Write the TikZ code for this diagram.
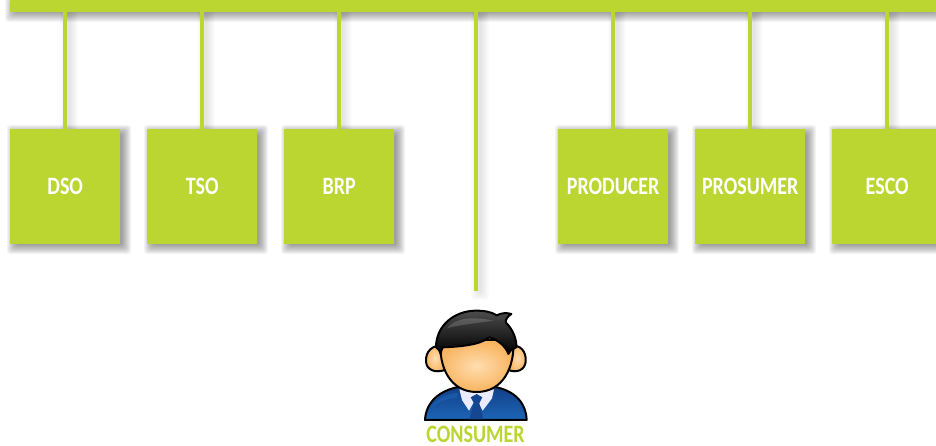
\documentclass[tikz,border=0pt]{standalone}
\usepackage{fontspec}
\setmainfont{Carlito}
\usetikzlibrary{positioning,calc}
\definecolor{lime}{HTML}{BBD531}
\definecolor{skinin}{HTML}{FFDDB0}
\definecolor{skinout}{HTML}{F8B45E}
\definecolor{suitdark}{HTML}{123F86}
\definecolor{suitlight}{HTML}{1C66B8}
\newcommand{\softshadow}[5]{%
  \foreach \s in {7,6,5,4,3,2,1,0,-1,-2}{%
    \fill[black,opacity=#5,rounded corners=3pt]
      ($(#1)+(#3-\s,#4-\s)$) rectangle ($(#2)+(#3+\s,#4+\s)$);}}
\newcommand{\lbl}[1]{\scalebox{1}[1.25]{\fontsize{20}{24}\bfseries\selectfont #1}}
\tikzset{
  x=1pt,y=-1pt,
  actor/.style={fill=lime,minimum width=110pt,minimum height=115pt,inner sep=0pt,text=white,anchor=north west},
  barbox/.style={fill=lime,minimum width=926pt,minimum height=12pt,inner sep=0pt,anchor=north west},
  wire/.style={draw=lime,line width=3.6pt},
  outline/.style={draw=black,line width=2pt,line join=round}
}
\begin{document}
\begin{tikzpicture}
\useasboundingbox (0,0) rectangle (936,446);
\clip (0,0) rectangle (936,446);
\fill[white] (0,0) rectangle (936,446);
% shadows
\softshadow{10,0}{936,12}{2}{3}{.04}
\foreach \a/\b in {10/120,147/257,284/394,558/668,695/805,832/942}{
  \softshadow{\a,129}{\b,244}{4}{3}{.042}}
\foreach \x in {65,202,339,476,613,750,887}{
  \pgfmathsetmacro{\yend}{\x==476 ? 291 : 129}
  \softshadow{\x-2,12}{\x+2,\yend}{4}{2}{.01}}
% nodes
\node[barbox] (bar) at (10,0) {};
\node[actor] (dso) at (10,129) {\lbl{DSO}};
\node[actor] (tso) at (147,129) {\lbl{TSO}};
\node[actor] (brp) at (284,129) {\lbl{BRP}};
\node[actor] (producer) at (558,129) {\lbl{PRODUCER}};
\node[actor] (prosumer) at (695,129) {\lbl{PROSUMER}};
\node[actor] (esco) at (832,129) {\lbl{ESCO}};
\coordinate (cend) at (476,291);
% connectors
\foreach \n in {dso,tso,brp,producer,prosumer,esco}{
  \draw[wire] (\n.north) -- (\n.north |- bar.south);}
\draw[wire] (cend) -- (cend |- bar.south);
% person
\begin{scope}[shift={(400,290)},x=.3333pt,y=-.3333pt]
  % body
  \path[outline,top color=suitdark,bottom color=suitlight] (75,390) .. controls (78,335) and (120,300) .. (180,290) -- (280,290) .. controls (340,300) and (378,335) .. (380,390) -- cycle;
  \fill[suitlight,opacity=.55] (95,350) .. controls (115,320) and (150,310) .. (175,308) -- (170,325) .. controls (140,325) and (115,335) .. cycle;
  % collar
  \fill[white!92!blue] (178,298) -- (282,298) -- (276,325) -- (248,362) -- (228,325) -- (207,362) -- (186,330) -- cycle;
  % tie
  \fill[suitdark!80!suitlight] (212,322) -- (230,312) -- (247,322) -- (238,340) -- (250,388) -- (208,388) -- (222,340) -- cycle;
  % ears
  \path[outline,inner color=skinin,outer color=skinout] (130,170) .. controls (100,160) and (75,185) .. (78,215) .. controls (80,240) and (105,250) .. (135,240) -- cycle;
  \path[outline,inner color=skinin,outer color=skinout] (330,170) .. controls (360,160) and (380,185) .. (377,215) .. controls (375,240) and (350,250) .. (325,240) -- cycle;
  % face
  \path[outline,inner color=skinin,outer color=skinout] (122,150) -- (340,150) .. controls (345,230) and (310,306) .. (230,306) .. controls (150,306) and (115,230) .. (122,150) -- cycle;
  % hair
  \path[draw=black,line width=2pt,line join=round,top color=black!70,bottom color=black] (108,172) .. controls (108,105) and (165,62) .. (228,62) .. controls (255,62) and (275,66) .. (290,76) .. controls (305,68) and (322,68) .. (334,72) .. controls (322,80) and (316,88) .. (318,98) .. controls (338,118) and (350,145) .. (349,172) .. controls (335,178) and (328,182) .. (325,192) .. controls (318,170) and (295,150) .. (268,142) .. controls (240,165) and (180,170) .. (128,172) .. controls (125,178) and (123,185) .. (122,192) .. controls (118,180) and (114,175) .. (108,172) -- cycle;
  \fill[white,opacity=.16] (140,115) .. controls (165,85) and (215,78) .. (280,92) .. controls (225,100) and (175,105) .. (140,115) -- cycle;
\end{scope}
\node[text=lime,inner sep=0pt] (consumer) at (475.5,434.5) {\lbl{CONSUMER}};
\end{tikzpicture}
\end{document}
